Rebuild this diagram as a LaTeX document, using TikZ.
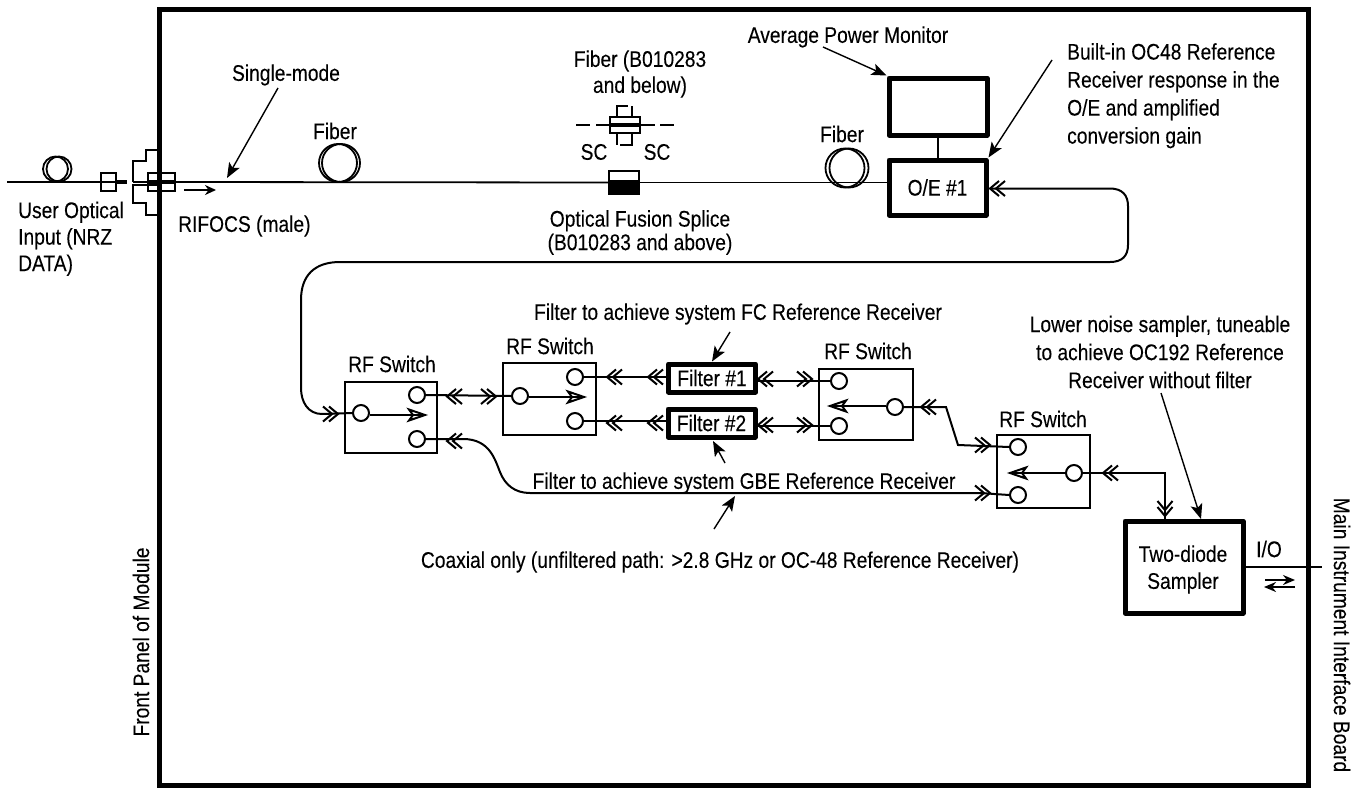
\documentclass[tikz,border=0pt]{standalone}
\usepackage{fontspec}
\setmainfont[FakeStretch=0.85,FakeBold=0.15]{Liberation Sans}
\usetikzlibrary{arrows.meta,shapes.geometric}
\newcommand{\labfont}{\fontsize{22.6}{28}\selectfont}
\tikzset{
 lab/.style={font=\labfont,align=center,inner sep=0pt,text=black},
 labl/.style={lab,align=left},
 switchbox/.style={draw,line width=2pt,minimum width=#1,inner sep=0pt},
 port/.style={draw,circle,line width=2pt,minimum size=16pt,inner sep=0pt,fill=white},
 thickbox/.style={draw,line width=5pt,inner sep=0pt,fill=white,line join=round,font=\labfont},
 wire/.style={line width=1.8pt},
 callout/.style={line width=1.4pt,-{Stealth[length=15pt,width=12pt,inset=3.5pt]}},
 switchline/.style={line width=2pt},
 conn/.style={line width=2pt},
 pics/chev/.style={code={
   \draw[line width=2pt] (9,-7.5)--(0,0)--(9,7.5) (15,-7.5)--(6,0)--(15,7.5);
 }},
 pics/swhead/.style={code={
   \draw[line width=2pt,fill=white,line join=miter] (0,0)--(16,-5.5)--(12,0)--(16,5.5)--cycle;
   \draw[line width=2pt] (12,0)--(3,0);
 }},
}
\begin{document}
\begin{tikzpicture}[x=1pt,y=-1pt]
\useasboundingbox (0,0) rectangle (1365,787);
% panel
\node[draw,line width=5pt,minimum width=1149pt,minimum height=776.5pt,inner sep=0pt,anchor=north west] (panel) at (156.5,6.5) {};
% input
\draw[line width=1.8pt] (55.5,169) circle[radius=12.5pt];
\draw[line width=1.8pt] (59,169) circle[radius=12.5pt];
\node[draw,line width=1.8pt,minimum width=15pt,minimum height=18pt,inner sep=0pt] (c1) at (108.5,182) {};
\node[draw,line width=1.8pt,minimum width=27pt,minimum height=18pt,inner sep=0pt] (c2) at (161.5,182) {};
\coordinate (inl) at (7,182);
\draw[wire] (inl) -- (c1.west);
\draw[line width=1.8pt] (c1.west) -- (c1.east);
\draw[line width=4pt] (c1.east) ++(0,0) -- (127,182);
\draw[wire] (133,182) -- (c2.west);
\draw[line width=4pt] (c2.west) -- (c2.east);
\draw[line width=2pt] (133,182) -- (133,161) -- (146,161) -- (146,150) -- (159,150);
\draw[line width=2pt] (159,185) -- (133,185) -- (133,203) -- (146,203) -- (146,215) -- (159,215);
\draw[line width=2pt,-{Stealth[length=11pt,width=10pt]}] (184,190) -- (216,190);
% fibre labels
\node[lab] (sm) at (286,75) {Single-mode};
\coordinate (smf) at (278,88); \coordinate (smt) at (227,178);
\draw[callout] (smf) -- (smt);
\node[labl,anchor=north west] (uoi2) at (18,201.5) {User Optical\\[-1.5pt]Input (NRZ\\[-1.5pt]DATA)};
\node[lab] (rif) [anchor=west] at (178,226) {RIFOCS (male)};
\node[lab] (fib1) at (335,131) {Fiber};
\draw[line width=1.8pt] (338,163) circle[radius=19pt];
\draw[line width=1.8pt] (341,163) circle[radius=19pt];
% splice
\node[draw,line width=2pt,minimum width=30pt,minimum height=23pt,inner sep=0pt,fill=white] (spl) at (624,182.5) {};
\fill (609,180) rectangle (639,194);
\draw[wire] (c2.east) -- (spl.west);
\node[lab] (fb) at (640,74) {Fiber (B010283\\[-2pt]and below)};
\draw[line width=2pt] (576,125)--(590,125) (596,125)--(610,125) (640,125)--(655,125) (660,125)--(674,125);
\node[draw,line width=2pt,minimum width=30pt,minimum height=16pt,inner sep=0pt] (scb) at (625,125) {};
\draw[line width=4pt] (610,124.5)--(640,124.5);
\draw[line width=2pt] (617,117)--(617,106)--(628,106) (632,106)--(632,117) (617,133)--(617,145) (620,145)--(632,145)--(632,133);
\node[lab] (sc1) at (594,152) {SC};
\node[lab] (sc2) at (657,152) {SC};
\node[lab] (ofs) at (640,232.5) {Optical Fusion Splice\\[-4.5pt](B010283 and above)};
% power and O/E
\node[lab] (apm) at (848,37) {Average Power Monitor};
\node[thickbox,minimum width=98pt,minimum height=57pt] (pow) at (938,106.5) {};
\node[thickbox,minimum width=97pt,minimum height=55pt] (oe) at (937.5,187.5) {O/E \#1};
\draw[wire] (pow.south) -- (oe.north -| pow.south);
\coordinate (apmf) at (823,47);
\draw[callout] (apmf) -- (pow.north west);
\node[lab] (f2) at (842,134) {Fiber};
\draw[line width=1.8pt] (845,168) circle[radius=19.5pt];
\draw[line width=1.8pt] (849,168) circle[radius=19.5pt];
\draw[wire] (spl.east) -- (spl.east -| oe.west);
\node[labl,anchor=north west] (bi) at (1067,43) {Built-in OC48 Reference\\Receiver response in the\\O/E and amplified\\conversion gain};
\coordinate (bif) at (1052,60);
\draw[callout] (bif) -- (oe.north east);
% RF switches
\node[switchbox=92pt,minimum height=71pt] (sw1) at (391,417) {};
\node[switchbox=93pt,minimum height=72pt] (sw2) at (549.5,399) {};
\node[switchbox=94pt,minimum height=71pt] (sw3) at (866,404.5) {};
\node[switchbox=93pt,minimum height=73pt] (sw4) at (1043.5,471.5) {};
\node[lab] (l1) at (392,364) {RF Switch};
\node[lab] (l2) at (550,346) {RF Switch};
\node[lab] (l3) at (868,351) {RF Switch};
\node[lab] (l4) at (1043,419) {RF Switch};
\node[port] (a1) at (361,413) {};
\node[port] (a2) at (417,395) {};
\node[port] (a3) at (417,439) {};
\node[port] (b1) at (520,396) {};
\node[port] (b2) at (575,377) {};
\node[port] (b3) at (575,421) {};
\node[port] (d1) at (839,381) {};
\node[port] (d2) at (839,426) {};
\node[port] (d3) at (895,407) {};
\node[port] (e1) at (1018,447) {};
\node[port] (e2) at (1018,495) {};
\node[port] (e3) at (1074,473) {};
\coordinate (a1t) at (425,415); \coordinate (b1t) at (584,397);
\coordinate (d3t) at (830,406); \coordinate (e3t) at (1010,473);
\draw[switchline] (a1.east |- a1t) -- (a1t);
\draw[switchline] (b1.east |- b1t) -- (b1t);
\draw[switchline] (d3.west |- d3t) -- (d3t);
\draw[switchline] (e3.west) -- (e3t);
\path (a1t) pic[rotate=180]{swhead};
\path (b1t) pic[rotate=180]{swhead};
\path (d3t) pic{swhead};
\path (e3t) pic{swhead};
% filters
\node[thickbox,minimum width=87pt,minimum height=28pt] (f1) at (712,378) {Filter \#1};
\node[thickbox,minimum width=87pt,minimum height=28pt] (f3) at (711.5,423) {Filter \#2};
% connectors
\coordinate (oec) at (990,188.5);
\draw[conn] (oec) -- (1110,188.5) .. controls (1122,188.5) and (1128,195) .. (1128,206) -- (1128,245) .. controls (1128,256) and (1122,262) .. (1110,262) -- (340,262) .. controls (315,262) and (301,275) .. (301,300) -- (301,388) .. controls (301,402) and (308,414) .. (322,414) -- (a1.west);
\path (oec) pic{chev};
\path (338,414) pic[rotate=180]{chev};
\draw[conn] (a2.east) -- (b1.west);
\path (447,396.5) pic{chev};
\path (496,396.5) pic[rotate=180]{chev};
\draw[conn] (b2.east) -- (f1.west |- b2.east);
\path (607,377) pic{chev};
\path (648,377) pic{chev};
\draw[conn] (b3.east) -- (f3.west |- b3.east);
\path (607,423) pic{chev};
\path (648,423) pic{chev};
\draw[conn] (f1.east |- d1.west) -- (d1.west);
\path (758,379) pic{chev};
\path (812,379) pic[rotate=180]{chev};
\draw[conn] (f3.east |- d2.west) -- (d2.west);
\path (758,425) pic{chev};
\path (812,425) pic[rotate=180]{chev};
\draw[conn] (d3.east) -- (946,407) -- (958,445) -- (e1.west);
\path (921,407) pic{chev};
\path (990,445) pic[rotate=180]{chev};
\draw[conn] (a3.east) -- (463,439) .. controls (490,439) and (495,460) .. (500,472) .. controls (505,485) and (515,493) .. (530,493) -- (980,493) -- (e2.west);
\path (447,441) pic{chev};
\path (990,493) pic[rotate=180]{chev};
\node[thickbox,minimum width=118pt,minimum height=92pt] (sam) at (1184,567) {};
\node[lab] (saml) at (1183,569.5) {Two-diode\\[-1pt]Sampler};
\draw[conn] (e3.east) -- (1165,473) -- (1165,519);
\path (1103,473) pic{chev};
\path (1165,516) pic[rotate=90]{chev};
\coordinate (ioe) at (1322,567);
\draw[conn] (sam.east) -- (ioe);
\node[lab] (io) at (1269,549) {I/O};
\draw[line width=2pt,-{Stealth[length=12pt,width=10pt]}] (1265,580) -- (1295,580);
\draw[line width=2pt,-{Stealth[length=12pt,width=10pt]}] (1295,587) -- (1264,587);
% labels and callouts
\node[lab] (fc) at (738,314) {Filter to achieve system FC Reference Receiver};
\coordinate (fct) at (730,332);
\draw[callout] (fct) -- (f1.north);
\coordinate (f3c) at (725,463);
\draw[callout] (f3c) -- (713,441);
\node[lab] (gbe) at (744,483) {Filter to achieve system GBE Reference Receiver};
\node[lab] (cx) at (720,562) {Coaxial only (unfiltered path: >2.8 GHz or OC-48 Reference Receiver)};
\coordinate (cxf) at (714,529); \coordinate (cxt) at (735,496);
\draw[callout] (cxf) -- (cxt);
\node[lab] (ln) at (1160,352) {Lower noise sampler, tuneable\\to achieve OC192 Reference\\Receiver without filter};
\coordinate (lnf) at (1161,393);
\draw[callout] (lnf) -- (1201,519);
\node[lab,rotate=90] (fp) at (141,642) {Front Panel of Module};
\node[lab,rotate=-90] (mi) at (1342,635) {Main Instrument Interface Board};
\end{tikzpicture}
\end{document}
